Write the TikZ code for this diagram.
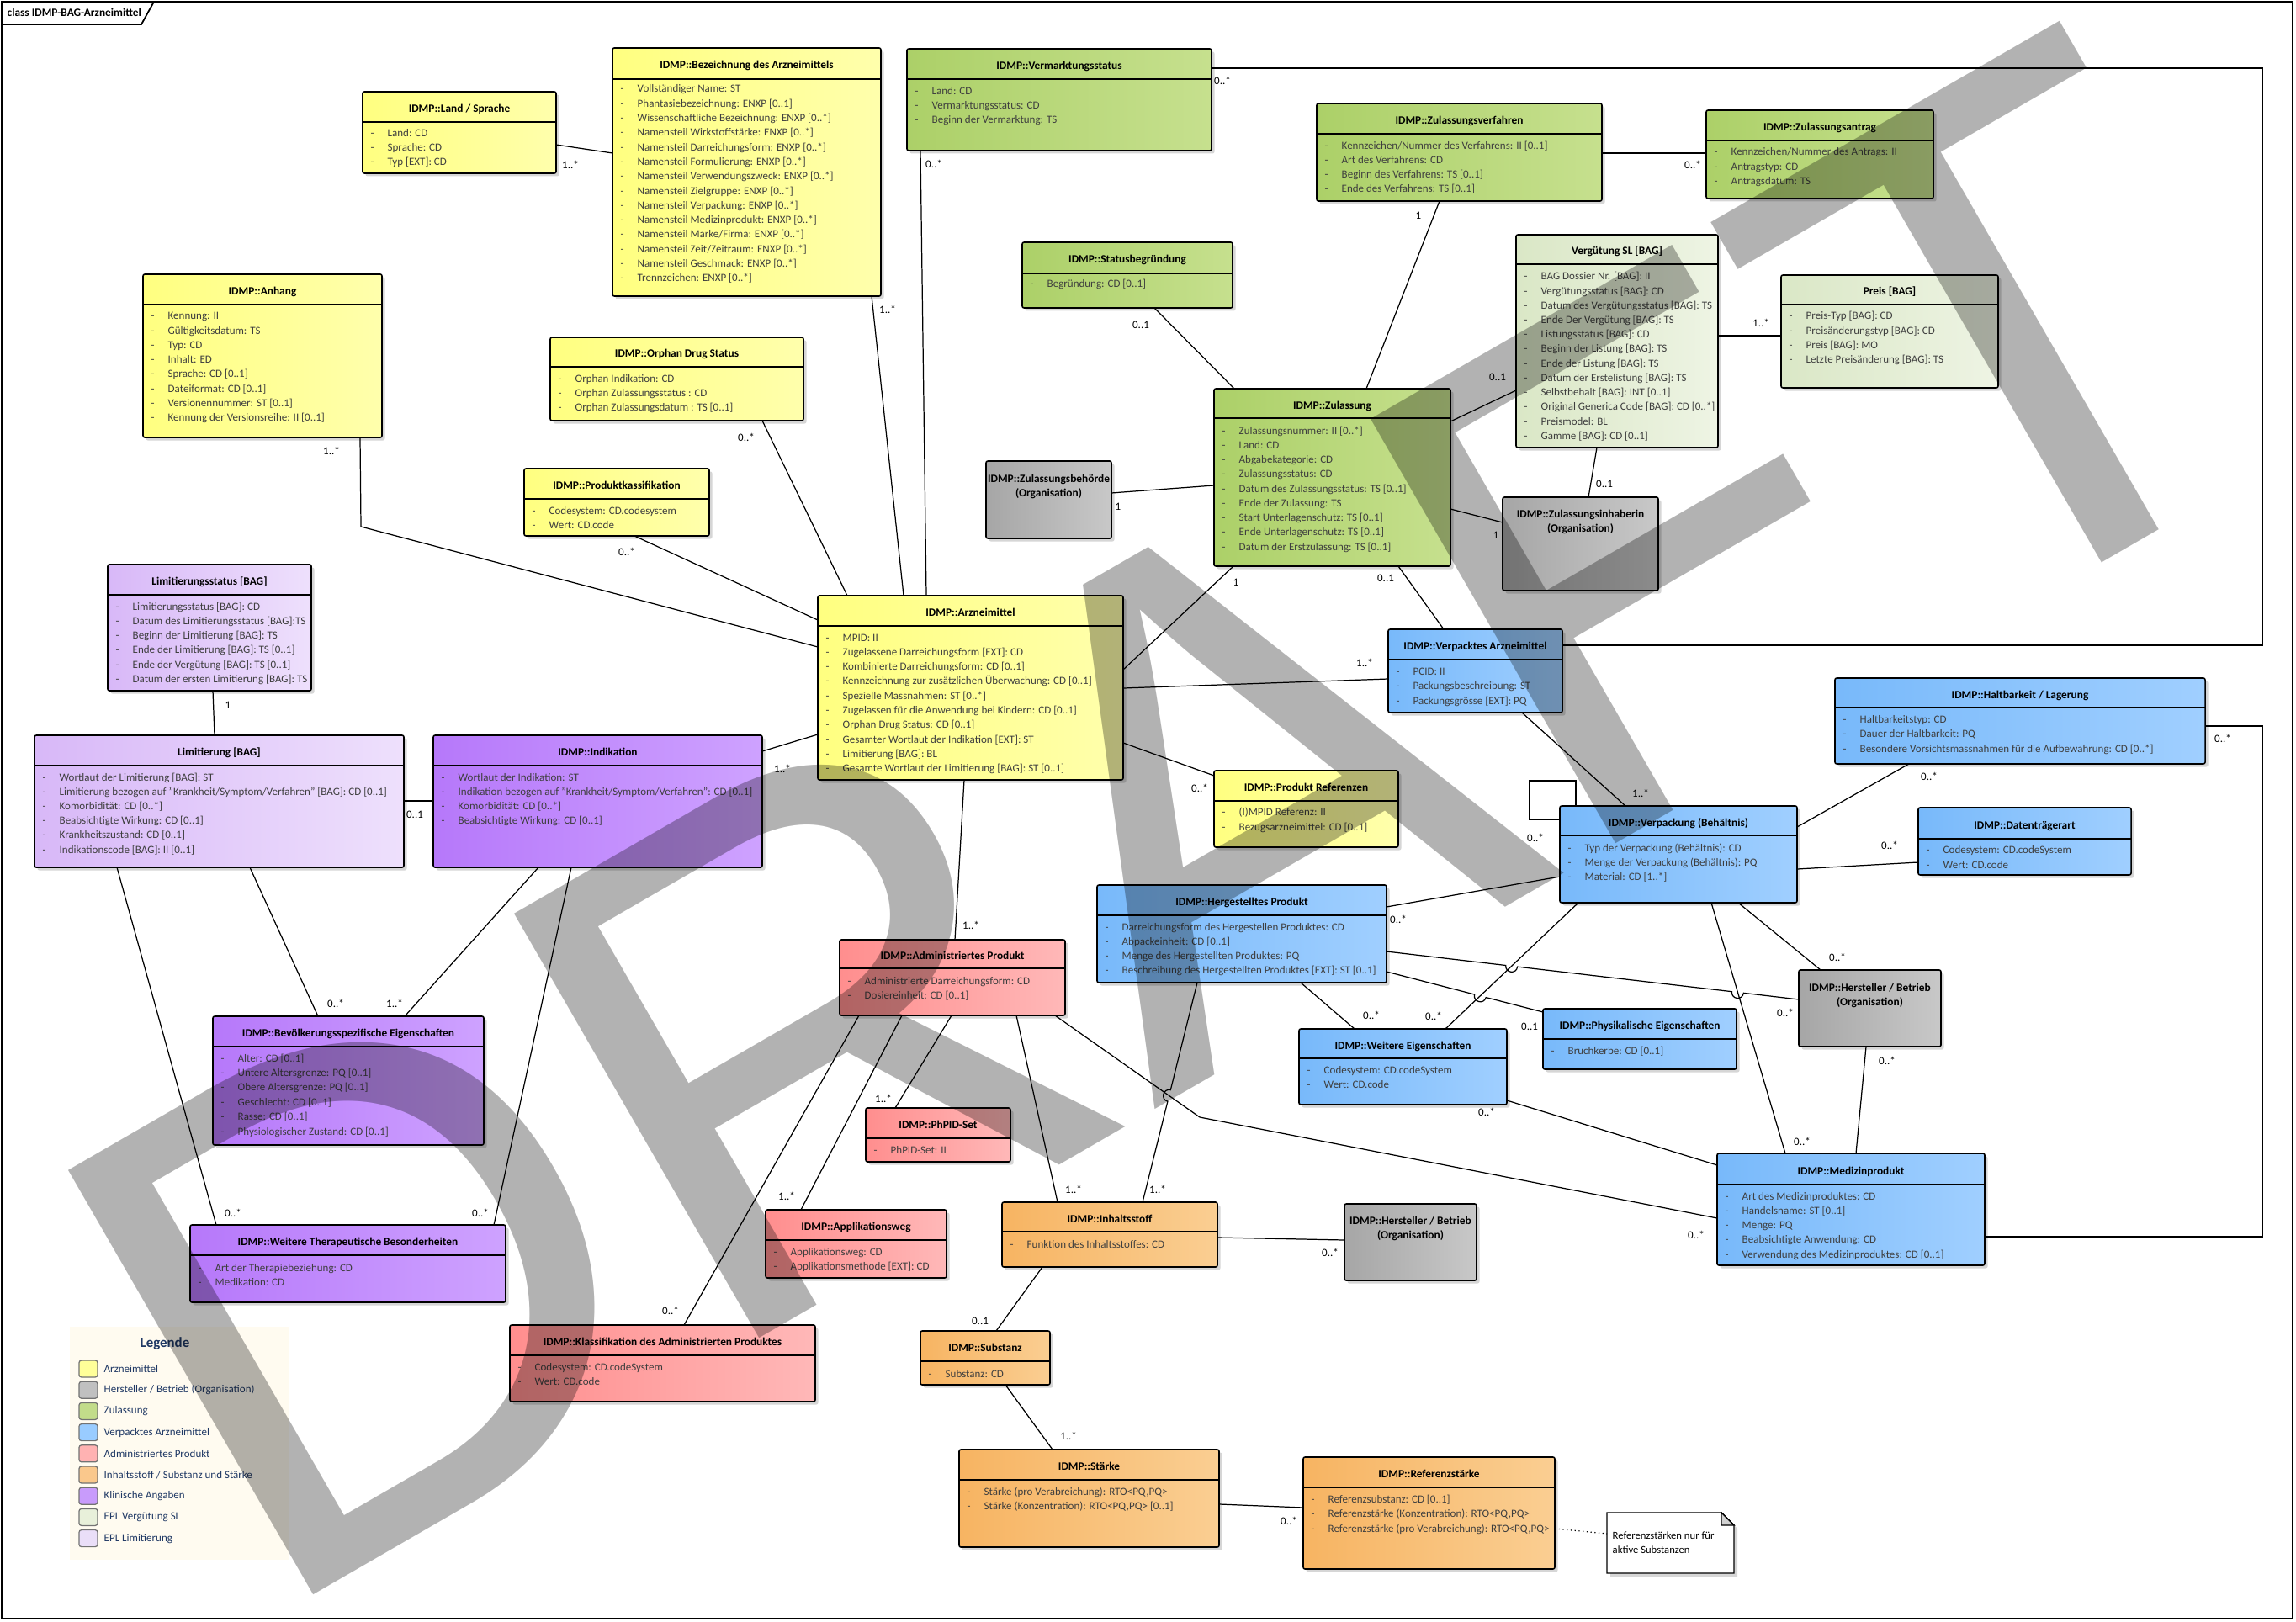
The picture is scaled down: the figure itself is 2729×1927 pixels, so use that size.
\documentclass[tikz,border=0pt]{standalone}
\usepackage{fontspec}
\setmainfont{Carlito}
\newfontfamily\wmfont{Liberation Sans}
\usetikzlibrary{shadows}
\definecolor{Y1}{RGB}{255,255,128}\definecolor{Y2}{RGB}{255,255,172}
\definecolor{G1}{RGB}{172,208,104}\definecolor{G2}{RGB}{198,224,142}
\definecolor{B1}{RGB}{120,185,250}\definecolor{B2}{RGB}{160,207,255}
\definecolor{P1}{RGB}{182,120,250}\definecolor{P2}{RGB}{206,162,255}
\definecolor{L1}{RGB}{216,184,248}\definecolor{L2}{RGB}{238,224,252}
\definecolor{K1}{RGB}{255,142,142}\definecolor{K2}{RGB}{255,184,184}
\definecolor{O1}{RGB}{247,180,98}\definecolor{O2}{RGB}{250,206,146}
\definecolor{R1}{RGB}{166,166,166}\definecolor{R2}{RGB}{200,200,200}
\definecolor{V1}{RGB}{218,231,198}\definecolor{V2}{RGB}{238,244,228}
\definecolor{attrc}{RGB}{62,62,62}
\definecolor{navy}{RGB}{31,56,100}
\definecolor{legbg}{RGB}{255,251,240}
\definecolor{LA}{RGB}{255,255,153}\definecolor{LB}{RGB}{192,192,192}
\definecolor{LC}{RGB}{194,220,138}\definecolor{LD}{RGB}{153,204,255}
\definecolor{LE}{RGB}{255,178,178}\definecolor{LF}{RGB}{250,200,140}
\definecolor{LG}{RGB}{200,155,251}\definecolor{LH}{RGB}{232,240,218}
\definecolor{LI}{RGB}{234,222,248}
\tikzset{
 ubx/.style={draw=black,line width=0.45pt,rounded corners=0.6pt,inner sep=0pt,outer sep=0pt,
   drop shadow={shadow xshift=0.35mm,shadow yshift=-0.35mm,fill=black,opacity=0.16}},
 yel/.style={left color=Y1,right color=Y2},
 grn/.style={left color=G1,right color=G2},
 blu/.style={left color=B1,right color=B2},
 pur/.style={left color=P1,right color=P2},
 lpu/.style={left color=L1,right color=L2},
 pnk/.style={left color=K1,right color=K2},
 orn/.style={left color=O1,right color=O2},
 gry/.style={left color=R1,right color=R2},
 lgr/.style={left color=V1,right color=V2},
 sepl/.style={line width=0.45pt},
 ttl/.style={font=\fontsize{3.8}{4.6}\selectfont\bfseries,anchor=base,inner sep=0pt},
 attr/.style={font=\fontsize{3.7}{4.5}\selectfont,text=attrc,anchor=base west,inner sep=0pt},
 con/.style={line width=0.35pt},
 mult/.style={font=\fontsize{3.7}{4.5}\selectfont,inner sep=0pt},
 legt/.style={font=\fontsize{3.7}{4.5}\selectfont,text=navy,anchor=west,inner sep=0pt},
}
\newcommand\cls[8]{%
  \node[ubx,#6,minimum width={(#4-#2)*0.1mm},minimum height={(#5-#3)*0.1mm},anchor=north west] (#1) at (#2,#3) {};
  \draw[sepl] (#2,#7) -- (#4,#7);
  \node[ttl] at ({(#2+#4)/2},{(#3+#7)/2+6.5}) {#8};}
\newcommand\attrs[4]{%
  \foreach \itm [count=\i from 0] in {#4} {%
    \node[attr] at (#1+9,#2+4+\i*#3) {\makebox[2mm][l]{-}\itm};}}
\newcommand\orgbox[7]{%
  \node[ubx,gry,minimum width={(#4-#2)*0.1mm},minimum height={(#5-#3)*0.1mm},anchor=north west] (#1) at (#2,#3) {};
  \node[ttl] at ({(#2+#4)/2},#6+4) {#7};
  \node[ttl] at ({(#2+#4)/2},#6+21) {(Organisation)};}
\newcommand\legitem[3]{%
  \filldraw[fill=#2,draw=black!55,line width=0.35pt,rounded corners=0.8pt] (94,{1617+#1*25.2}) rectangle (116,{1637+#1*25.2});
  \node[legt] at (123,{1627+#1*25.2}) {#3};}
\begin{document}
\begin{tikzpicture}[x=0.1mm,y=-0.1mm]
\useasboundingbox (0,0) rectangle (2729,1927);
\fill[white] (0,0) rectangle (2729,1927);
% frame
\draw[line width=0.5pt] (2,2) rectangle (2725,1924);
\draw[line width=0.5pt] (2,29) -- (168,29) -- (183,2);
\node[font=\fontsize{3.8}{4.5}\selectfont\bfseries,anchor=west,inner sep=0pt] at (8,15) {class IDMP-BAG-Arzneimittel};

% ---------- boxes ----------
\cls{land}{431}{109}{661}{206}{yel}{145}{IDMP::Land / Sprache}
\cls{bez}{728}{57}{1047}{352}{yel}{94}{IDMP::Bezeichnung des Arzneimittels}
\cls{anh}{170}{326}{454}{520}{yel}{362}{IDMP::Anhang}
\cls{orph}{654}{401}{955}{500}{yel}{436}{IDMP::Orphan Drug Status}
\cls{verm}{1078}{58}{1440}{179}{grn}{94}{IDMP::Vermarktungsstatus}
\cls{zverf}{1565}{123}{1904}{239}{grn}{159}{IDMP::Zulassungsverfahren}
\cls{zantr}{2028}{131}{2298}{236}{grn}{167}{IDMP::Zulassungsantrag}
\cls{stat}{1215}{288}{1465}{366}{grn}{325}{IDMP::Statusbegründung}
\cls{zul}{1443}{462}{1724}{673}{grn}{497}{IDMP::Zulassung}
\cls{verg}{1802}{279}{2042}{532}{lgr}{314}{Vergütung SL [BAG]}
\cls{preis}{2117}{327}{2375}{461}{lgr}{362}{Preis [BAG]}
\orgbox{zbeh}{1172}{548}{1321}{640}{569}{IDMP::Zulassungsbehörde}
\orgbox{zinh}{1786}{591}{1971}{702}{611}{IDMP::Zulassungsinhaberin}
\cls{prodk}{623}{557}{843}{637}{yel}{593}{IDMP::Produktkassifikation}
\cls{limst}{128}{671}{370}{821}{lpu}{707}{Limitierungsstatus [BAG]}
\cls{lim}{41}{874}{480}{1031}{lpu}{910}{Limitierung [BAG]}
\cls{ind}{515}{874}{906}{1031}{pur}{910}{IDMP::Indikation}
\cls{arz}{972}{708}{1335}{927}{yel}{744}{IDMP::Arzneimittel}
\cls{verp}{1650}{748}{1857}{847}{blu}{784}{IDMP::Verpacktes Arzneimittel}
\cls{pref}{1443}{916}{1662}{1007}{yel}{952}{IDMP::Produkt Referenzen}
\cls{vbeh}{1854}{958}{2136}{1073}{blu}{993}{IDMP::Verpackung (Behältnis)}
\cls{halt}{2181}{806}{2621}{908}{blu}{841}{IDMP::Haltbarkeit / Lagerung}
\cls{datt}{2280}{960}{2533}{1040}{blu}{997}{IDMP::Datenträgerart}
\cls{herg}{1304}{1052}{1648}{1168}{blu}{1088}{IDMP::Hergestelltes Produkt}
\cls{adm}{998}{1117}{1266}{1207}{pnk}{1151}{IDMP::Administriertes Produkt}
\orgbox{hst1}{2138}{1153}{2307}{1244}{1174}{IDMP::Hersteller / Betrieb}
\cls{phys}{1834}{1199}{2064}{1271}{blu}{1235}{IDMP::Physikalische Eigenschaften}
\cls{weig}{1544}{1223}{1791}{1313}{blu}{1258}{IDMP::Weitere Eigenschaften}
\cls{med}{2041}{1371}{2359}{1504}{blu}{1408}{IDMP::Medizinprodukt}
\cls{bev}{253}{1208}{575}{1361}{pur}{1244}{IDMP::Bevölkerungsspezifische Eigenschaften}
\cls{wth}{226}{1456}{601}{1548}{pur}{1492}{IDMP::Weitere Therapeutische Besonderheiten}
\cls{phpid}{1029}{1317}{1201}{1381}{pnk}{1353}{IDMP::PhPID-Set}
\cls{appl}{910}{1438}{1125}{1519}{pnk}{1474}{IDMP::Applikationsweg}
\cls{klass}{606}{1575}{969}{1666}{pnk}{1611}{IDMP::Klassifikation des Administrierten Produktes}
\cls{inh}{1191}{1429}{1447}{1506}{orn}{1464}{IDMP::Inhaltsstoff}
\orgbox{hst2}{1598}{1431}{1755}{1522}{1451}{IDMP::Hersteller / Betrieb}
\cls{subs}{1094}{1582}{1248}{1646}{orn}{1618}{IDMP::Substanz}
\cls{stk}{1140}{1723}{1449}{1839}{orn}{1759}{IDMP::Stärke}
\cls{refst}{1549}{1732}{1848}{1865}{orn}{1768}{IDMP::Referenzstärke}

% ---------- attributes ----------
\attrs{431}{159}{17}{Land: CD, Sprache: CD, Typ [EXT]: CD}
\attrs{728}{106}{17.3}{Vollständiger Name: ST, Phantasiebezeichnung: ENXP [0..1], Wissenschaftliche Bezeichnung: ENXP [0..*], Namensteil Wirkstoffstärke: ENXP [0..*], Namensteil Darreichungsform: ENXP [0..*], Namensteil Formulierung: ENXP [0..*], Namensteil Verwendungszweck: ENXP [0..*], Namensteil Zielgruppe: ENXP [0..*], Namensteil Verpackung: ENXP [0..*], Namensteil Medizinprodukt: ENXP [0..*], Namensteil Marke/Firma: ENXP [0..*], Namensteil Zeit/Zeitraum: ENXP [0..*], Namensteil Geschmack: ENXP [0..*], Trennzeichen: ENXP [0..*]}
\attrs{170}{376}{17.2}{Kennung: II, Gültigkeitsdatum: TS, Typ: CD, Inhalt: ED, Sprache: CD [0..1], Dateiformat: CD [0..1], Versionennummer: ST [0..1], Kennung der Versionsreihe: II [0..1]}
\attrs{654}{451}{17}{Orphan Indikation: CD, Orphan Zulassungsstatus : CD, Orphan Zulassungsdatum : TS [0..1]}
\attrs{1078}{109}{17}{Land: CD, Vermarktungsstatus: CD, Beginn der Vermarktung: TS}
\attrs{1565}{174}{17}{Kennzeichen/Nummer des Verfahrens: II [0..1], Art des Verfahrens: CD, Beginn des Verfahrens: TS [0..1], Ende des Verfahrens: TS [0..1]}
\attrs{2028}{181}{17.5}{Kennzeichen/Nummer des Antrags: II, Antragstyp: CD, Antragsdatum: TS}
\attrs{1215}{338}{17}{Begründung: CD [0..1]}
\attrs{1443}{512}{17.25}{Zulassungsnummer: II [0..*], Land: CD, Abgabekategorie: CD, Zulassungsstatus: CD, Datum des Zulassungsstatus: TS [0..1], Ende der Zulassung: TS, Start Unterlagenschutz: TS [0..1], Ende Unterlagenschutz: TS [0..1], Datum der Erstzulassung: TS [0..1]}
\attrs{1802}{329}{17.2}{BAG Dossier Nr. [BAG]: II, Vergütungsstatus [BAG]: CD, Datum des Vergütungsstatus [BAG]: TS, Ende Der Vergütung [BAG]: TS, Listungsstatus [BAG]: CD, Beginn der Listung [BAG]: TS, Ende der Listung [BAG]: TS, Datum der Erstelistung [BAG]: TS, Selbstbehalt [BAG]: INT [0..1], Original Generica Code [BAG]: CD [0..*], Preismodel: BL, Gamme [BAG]: CD [0..1]}
\attrs{2117}{376}{17.3}{Preis-Typ [BAG]: CD, Preisänderungstyp [BAG]: CD, Preis [BAG]: MO, Letzte Preisänderung [BAG]: TS}
\attrs{623}{607}{17}{Codesystem: CD.codesystem, Wert: CD.code}
\attrs{128}{721}{17.3}{Limitierungsstatus [BAG]: CD, Datum des Limitierungsstatus [BAG]:TS, Beginn der Limitierung [BAG]: TS, Ende der Limitierung [BAG]: TS [0..1], Ende der Vergütung [BAG]: TS [0..1], Datum der ersten Limitierung [BAG]: TS}
\attrs{41}{924}{17.2}{Wortlaut der Limitierung [BAG]: ST, Limitierung bezogen auf "Krankheit/Symptom/Verfahren" [BAG]: CD [0..1], Komorbidität: CD [0..*], Beabsichtigte Wirkung: CD [0..1], Krankheitszustand: CD [0..1], Indikationscode [BAG]: II [0..1]}
\attrs{515}{924}{17.2}{Wortlaut der Indikation: ST, Indikation bezogen auf "Krankheit/Symptom/Verfahren": CD [0..1], Komorbidität: CD [0..*], Beabsichtigte Wirkung: CD [0..1]}
\attrs{972}{758}{17.3}{MPID: II, Zugelassene Darreichungsform [EXT]: CD, Kombinierte Darreichungsform: CD [0..1], Kennzeichnung zur zusätzlichen Überwachung: CD [0..1], Spezielle Massnahmen: ST [0..*], Zugelassen für die Anwendung bei Kindern: CD [0..1], Orphan Drug Status: CD [0..1], Gesamter Wortlaut der Indikation [EXT]: ST, Limitierung [BAG]: BL, Gesamte Wortlaut der Limitierung [BAG]: ST [0..1]}
\attrs{1650}{798}{17.5}{PCID: II, Packungsbeschreibung: ST, Packungsgrösse [EXT]: PQ}
\attrs{1443}{965}{18}{(I)MPID Referenz: II, Bezugsarzneimittel: CD [0..1]}
\attrs{1854}{1008}{17}{Typ der Verpackung (Behältnis): CD, Menge der Verpackung (Behältnis): PQ, Material: CD [1..*]}
\attrs{2181}{855}{17.5}{Haltbarkeitstyp: CD, Dauer der Haltbarkeit: PQ, Besondere Vorsichtsmassnahmen für die Aufbewahrung: CD [0..*]}
\attrs{2280}{1010}{18}{Codesystem: CD.codeSystem, Wert: CD.code}
\attrs{1304}{1102}{17.3}{Darreichungsform des Hergestellen Produktes: CD, Abpackeinheit: CD [0..1], Menge des Hergestellten Produktes: PQ, Beschreibung des Hergestellten Produktes [EXT]: ST [0..1]}
\attrs{998}{1166}{17}{Administrierte Darreichungsform: CD, Dosiereinheit: CD [0..1]}
\attrs{1834}{1249}{17}{Bruchkerbe: CD [0..1]}
\attrs{1544}{1272}{17}{Codesystem: CD.codeSystem, Wert: CD.code}
\attrs{2041}{1422}{17.3}{Art des Medizinproduktes: CD, Handelsname: ST [0..1], Menge: PQ, Beabsichtigte Anwendung: CD, Verwendung des Medizinproduktes: CD [0..1]}
\attrs{253}{1258}{17.4}{Alter: CD [0..1], Untere Altersgrenze: PQ [0..1], Obere Altersgrenze: PQ [0..1], Geschlecht: CD [0..1], Rasse: CD [0..1], Physiologischer Zustand: CD [0..1]}
\attrs{226}{1507}{17}{Art der Therapiebeziehung: CD, Medikation: CD}
\attrs{1029}{1367}{17}{PhPID-Set: II}
\attrs{910}{1488}{17}{Applikationsweg: CD, Applikationsmethode [EXT]: CD}
\attrs{606}{1625}{17}{Codesystem: CD.codeSystem, Wert: CD.code}
\attrs{1191}{1479}{17}{Funktion des Inhaltsstoffes: CD}
\attrs{1094}{1633}{17}{Substanz: CD}
\attrs{1140}{1773}{17}{{Stärke (pro Verabreichung): RTO<PQ,PQ>}, {Stärke (Konzentration): RTO<PQ,PQ> [0..1]}}
\attrs{1549}{1782}{17.5}{Referenzsubstanz: CD [0..1], {Referenzstärke (Konzentration): RTO<PQ,PQ>}, {Referenzstärke (pro Verabreichung): RTO<PQ,PQ>}}

% ---------- note ----------
\node[inner sep=0pt,outer sep=0pt,minimum width={151*0.1mm},minimum height={72*0.1mm},anchor=north west] (note) at (1910,1798) {};
\fill[black,opacity=0.16] ([shift={(4,4)}]note.north west) -- ++(136,0) -- ++(15,15) -- ([shift={(4,4)}]note.south east) -- ([shift={(4,4)}]note.south west) -- cycle;
\filldraw[fill=white,line width=0.4pt] (note.north west) -- ++(136,0) -- ++(15,15) -- (note.south east) -- (note.south west) -- cycle;
\filldraw[fill=black!18,line width=0.4pt] ([shift={(136,0)}]note.north west) -- ++(0,15) -- ++(15,0) -- cycle;
\node[font=\fontsize{3.6}{4.4}\selectfont,anchor=base west,inner sep=0pt] at (1916,1829) {Referenzstärken nur für};
\node[font=\fontsize{3.6}{4.4}\selectfont,anchor=base west,inner sep=0pt] at (1916,1846) {aktive Substanzen};

% ---------- connectors ----------
\draw[con] ([shift={(661-431,172-109)}]land.north west) -- ([shift={(0,182-57)}]bez.north west);
\draw[con] ([shift={(1036-728,352-57)}]bez.north west) -- ([shift={(1074-972,0)}]arz.north west);
\draw[con] ([shift={(1094-1078,179-58)}]verm.north west) -- ([shift={(1101-972,0)}]arz.north west);
\draw[con] ([shift={(906-654,500-401)}]orph.north west) -- ([shift={(1007-972,0)}]arz.north west);
\draw[con] ([shift={(428-170,520-326)}]anh.north west) -- ++(1,106) -- ([shift={(0,769-708)}]arz.north west);
\draw[con] ([shift={(754-623,637-557)}]prodk.north west) -- ([shift={(0,737-708)}]arz.north west);
\draw[con] ([shift={(906-515,893-874)}]ind.north west) -- ([shift={(0,873-708)}]arz.north west);
\draw[con] ([shift={(253-128,821-671)}]limst.north west) -- ([shift={(255-41,0)}]lim.north west);
\draw[con] ([shift={(480-41,952-874)}]lim.north west) -- ([shift={(0,952-874)}]ind.north west);
\draw[con] ([shift={(297-41,1031-874)}]lim.north west) -- ([shift={(378-253,0)}]bev.north west);
\draw[con] ([shift={(640-515,1031-874)}]ind.north west) -- ([shift={(481-253,0)}]bev.north west);
\draw[con] ([shift={(139-41,1031-874)}]lim.north west) -- ([shift={(257-226,0)}]wth.north west);
\draw[con] ([shift={(679-515,1031-874)}]ind.north west) -- ([shift={(587-226,0)}]wth.north west);
\draw[con] ([shift={(1335-972,796-708)}]arz.north west) -- ([shift={(1466-1443,673-462)}]zul.north west);
\draw[con] ([shift={(1662-1443,673-462)}]zul.north west) -- ([shift={(1716-1650,0)}]verp.north west);
\draw[con] ([shift={(1335-972,818-708)}]arz.north west) -- ([shift={(0,807-748)}]verp.north west);
\draw[con] ([shift={(1335-972,883-708)}]arz.north west) -- ([shift={(0,922-916)}]pref.north west);
\draw[con] ([shift={(1146-972,927-708)}]arz.north west) -- ([shift={(1135-998,0)}]adm.north west);
\draw[con] ([shift={(1321-1172,586-548)}]zbeh.north west) -- ([shift={(0,577-462)}]zul.north west);
\draw[con] ([shift={(1372-1215,366-288)}]stat.north west) -- ([shift={(1467-1443,0)}]zul.north west);
\draw[con] ([shift={(1711-1565,239-123)}]zverf.north west) -- ([shift={(1624-1443,0)}]zul.north west);
\draw[con] ([shift={(1904-1565,182-123)}]zverf.north west) -- ([shift={(0,182-131)}]zantr.north west);
\draw[con] ([shift={(1724-1443,501-462)}]zul.north west) -- ([shift={(0,464-279)}]verg.north west);
\draw[con] ([shift={(2042-1802,399-279)}]verg.north west) -- ([shift={(0,399-327)}]preis.north west);
\draw[con] ([shift={(1724-1443,605-462)}]zul.north west) -- ([shift={(0,621-591)}]zinh.north west);
\draw[con] ([shift={(1898-1802,532-279)}]verg.north west) -- ([shift={(1888-1786,0)}]zinh.north west);
\draw[con] ([shift={(1440-1078,81-58)}]verm.north west) -- ++(1249,0) -- ++(0,686) -- ([shift={(1857-1650,767-748)}]verp.north west);
\draw[con] ([shift={(1809-1650,847-748)}]verp.north west) -- ([shift={(1932-1854,0)}]vbeh.north west);
\draw[con] ([shift={(1873-1854,0)}]vbeh.north west) -- ++(0,-30) -- ++(-55,0) -- ++(0,46) -- ([shift={(0,974-958)}]vbeh.north west);
\draw[con] ([shift={(2269-2181,908-806)}]halt.north west) -- ([shift={(2136-1854,983-958)}]vbeh.north west);
\draw[con] ([shift={(2136-1854,1033-958)}]vbeh.north west) -- ([shift={(0,1025-960)}]datt.north west);
\draw[con] ([shift={(1648-1304,1078-1052)}]herg.north west) -- ([shift={(0,1042-958)}]vbeh.north west);
\draw[con] ([shift={(2066-1854,1073-958)}]vbeh.north west) -- ([shift={(2164-2138,0)}]hst1.north west);
\draw[con] ([shift={(2034-1854,1073-958)}]vbeh.north west) -- ([shift={(2122-2041,0)}]med.north west);
\draw[con] ([shift={(1876-1854,1073-958)}]vbeh.north west) -- ([shift={(1718-1544,0)}]weig.north west);
\draw[con] ([shift={(1546-1304,1168-1052)}]herg.north west) -- ([shift={(1610-1544,0)}]weig.north west);
% Hergestelltes -> Physikalische (with line jump)
\draw[con] ([shift={(1648-1304,1155-1052)}]herg.north west) -- (1752.62,1182.05) .. controls (1750.30,1191.05) and (1763.86,1194.55) .. (1766.18,1185.55) -- ([shift={(0,1203-1199)}]phys.north west);
% Hergestelltes -> Hersteller (two line jumps)
\draw[con] ([shift={(1648-1304,1131-1052)}]herg.north west) -- (1789.75,1147.49) .. controls (1788.68,1156.73) and (1802.58,1158.35) .. (1803.65,1149.11) -- (2058.45,1178.69) .. controls (2057.38,1187.93) and (2071.28,1189.55) .. (2072.35,1180.31) -- ([shift={(0,1188-1153)}]hst1.north west);
\draw[con] ([shift={(2218-2138,1244-1153)}]hst1.north west) -- ([shift={(2206-2041,0)}]med.north west);
\draw[con] ([shift={(2621-2181,863-806)}]halt.north west) -- ++(68,0) -- ++(0,607) -- ([shift={(2359-2041,1470-1371)}]med.north west);
\draw[con] ([shift={(1791-1544,1308-1223)}]weig.north west) -- ([shift={(0,1385-1371)}]med.north west);
\draw[con] ([shift={(1254-998,1207-1117)}]adm.north west) -- ++(172,121) -- ([shift={(0,1448-1371)}]med.north west);
\draw[con] ([shift={(1131-998,1207-1117)}]adm.north west) -- ([shift={(1064-1029,0)}]phpid.north west);
\draw[con] ([shift={(1072-998,1207-1117)}]adm.north west) -- ([shift={(952-910,0)}]appl.north west);
\draw[con] ([shift={(1021-998,1207-1117)}]adm.north west) -- ([shift={(813-606,0)}]klass.north west);
\draw[con] ([shift={(1208-998,1207-1117)}]adm.north west) -- ([shift={(1257-1191,0)}]inh.north west);
% Hergestelltes -> Inhaltsstoff (with line jump)
\draw[con] ([shift={(1423-1304,1168-1052)}]herg.north west) -- (1391.29,1295.61) .. controls (1382.27,1293.36) and (1378.89,1306.94) .. (1387.91,1309.19) -- ([shift={(1358-1191,0)}]inh.north west);
\draw[con] ([shift={(1447-1191,1471-1429)}]inh.north west) -- ([shift={(0,1474-1431)}]hst2.north west);
\draw[con] ([shift={(1239-1191,1506-1429)}]inh.north west) -- ([shift={(1184-1094,0)}]subs.north west);
\draw[con] ([shift={(1195-1094,1646-1582)}]subs.north west) -- ([shift={(1251-1140,0)}]stk.north west);
\draw[con] ([shift={(1449-1140,1788-1723)}]stk.north west) -- ([shift={(0,1792-1732)}]refst.north west);
\draw[con,densely dotted] ([shift={(1848-1549,1817-1732)}]refst.north west) -- ([shift={(0,1823-1798)}]note.north west);

% ---------- multiplicities ----------
\node[mult] at (678,196) {1..*};
\node[mult] at (1055,368) {1..*};
\node[mult] at (1110,195) {0..*};
\node[mult] at (887,520) {0..*};
\node[mult] at (394,536) {1..*};
\node[mult] at (745,656) {0..*};
\node[mult] at (930,914) {1..*};
\node[mult] at (271,838) {1};
\node[mult] at (493,968) {0..1};
\node[mult] at (399,1193) {0..*};
\node[mult] at (469,1193) {1..*};
\node[mult] at (277,1442) {0..*};
\node[mult] at (571,1442) {0..*};
\node[mult] at (1469,692) {1};
\node[mult] at (1647,687) {0..1};
\node[mult] at (1622,788) {1..*};
\node[mult] at (1426,937) {0..*};
\node[mult] at (1154,1100) {1..*};
\node[mult] at (1329,602) {1};
\node[mult] at (1356,386) {0..1};
\node[mult] at (1686,256) {1};
\node[mult] at (2012,196) {0..*};
\node[mult] at (1780,448) {0..1};
\node[mult] at (2093,384) {1..*};
\node[mult] at (1778,636) {1};
\node[mult] at (1907,575) {0..1};
\node[mult] at (1453,96) {0..*};
\node[mult] at (1950,943) {1..*};
\node[mult] at (1825,996) {0..*};
\node[mult] at (2293,923) {0..*};
\node[mult] at (2246,1005) {0..*};
\node[mult] at (1662,1093) {0..*};
\node[mult] at (2184,1138) {0..*};
\node[mult] at (2142,1357) {0..*};
\node[mult] at (1704,1208) {0..*};
\node[mult] at (1630,1207) {0..*};
\node[mult] at (1818,1220) {0..1};
\node[mult] at (2122,1204) {0..*};
\node[mult] at (2243,1261) {0..*};
\node[mult] at (2642,878) {0..*};
\node[mult] at (1767,1322) {0..*};
\node[mult] at (2016,1468) {0..*};
\node[mult] at (1050,1306) {1..*};
\node[mult] at (935,1422) {1..*};
\node[mult] at (797,1558) {0..*};
\node[mult] at (1276,1414) {1..*};
\node[mult] at (1376,1414) {1..*};
\node[mult] at (1581,1489) {0..*};
\node[mult] at (1165,1570) {0..1};
\node[mult] at (1270,1707) {1..*};
\node[mult] at (1532,1808) {0..*};

% ---------- legend ----------
\node[fill=legbg,inner sep=0pt,minimum width={261*0.1mm},minimum height={277*0.1mm},anchor=north west] (legend) at (82,1576) {};
\node[font=\fontsize{4.8}{5.5}\selectfont\bfseries,text=navy,inner sep=0pt] at (196,1597) {Legende};
\legitem{0}{LA}{Arzneimittel}
\legitem{1}{LB}{Hersteller / Betrieb (Organisation)}
\legitem{2}{LC}{Zulassung}
\legitem{3}{LD}{Verpacktes Arzneimittel}
\legitem{4}{LE}{Administriertes Produkt}
\legitem{5}{LF}{Inhaltsstoff / Substanz und Stärke}
\legitem{6}{LG}{Klinische Angaben}
\legitem{7}{LH}{EPL Vergütung SL}
\legitem{8}{LI}{EPL Limitierung}

% ---------- watermark ----------
\node[font=\wmfont\fontsize{240.9}{240.9}\selectfont,text=black,text opacity=0.3,rotate=30,anchor=base west,inner sep=0pt] (wm) at (312,1931) {DRAFT};
\end{tikzpicture}
\end{document}
